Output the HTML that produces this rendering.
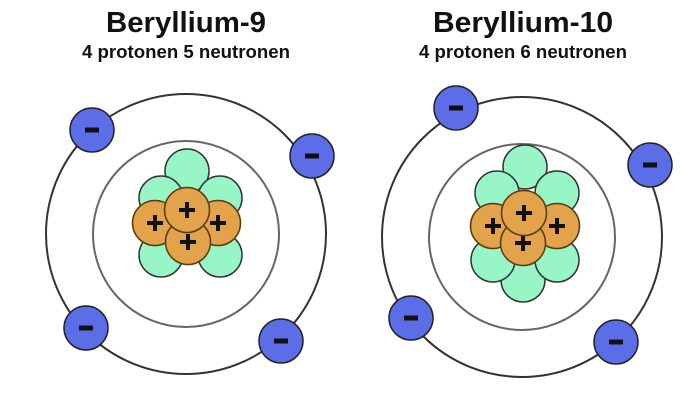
<!DOCTYPE html>
<html><head><style>
body{margin:0;background:#fff;width:700px;height:406px;overflow:hidden}
</style></head><body>
<svg width="700" height="406" viewBox="0 0 700 406" xmlns="http://www.w3.org/2000/svg" font-family="Liberation Sans, sans-serif">
<defs>
<g id="e"><circle r="22" fill="#5b6ee8" stroke="#222" stroke-width="1.5"/><rect x="-7" y="-2.5" width="14" height="5" fill="#111"/></g>
<g id="n"><circle r="22" fill="#98f5c6" stroke="#333" stroke-width="1.5"/></g>
<g id="p"><circle r="22.5" fill="#e3a34a" stroke="#5a3a10" stroke-width="1.5"/><rect x="-8" y="-2" width="16" height="4" fill="#111"/><rect x="-2" y="-8" width="4" height="16" fill="#111"/></g>
</defs>
<text x="186" y="32" font-size="29" font-weight="bold" text-anchor="middle" fill="#111" textLength="160" lengthAdjust="spacingAndGlyphs">Beryllium-9</text>
<text x="186" y="58" font-size="18" font-weight="bold" text-anchor="middle" fill="#111" textLength="208" lengthAdjust="spacingAndGlyphs">4 protonen 5 neutronen</text>
<text x="523" y="32" font-size="29" font-weight="bold" text-anchor="middle" fill="#111" textLength="180" lengthAdjust="spacingAndGlyphs">Beryllium-10</text>
<text x="523" y="58" font-size="18" font-weight="bold" text-anchor="middle" fill="#111" textLength="208" lengthAdjust="spacingAndGlyphs">4 protonen 6 neutronen</text>

<circle cx="186" cy="234" r="140" fill="none" stroke="#333" stroke-width="2"/>
<circle cx="186" cy="234" r="93" fill="none" stroke="#666" stroke-width="2"/>
<use href="#n" x="187" y="171"/><use href="#n" x="161" y="198"/><use href="#n" x="220" y="198"/>
<use href="#n" x="161" y="255"/><use href="#n" x="220" y="255"/>
<use href="#p" x="155" y="223"/><use href="#p" x="218" y="223"/><use href="#p" x="188" y="242"/><use href="#p" x="187" y="210"/>
<use href="#e" x="92" y="130"/><use href="#e" x="312" y="156"/><use href="#e" x="86" y="328"/><use href="#e" x="281" y="341"/>

<circle cx="522" cy="237" r="140" fill="none" stroke="#333" stroke-width="2"/>
<circle cx="522" cy="237" r="93" fill="none" stroke="#666" stroke-width="2"/>
<use href="#n" x="525" y="167"/><use href="#n" x="497" y="193"/><use href="#n" x="557" y="193"/>
<use href="#n" x="523" y="280"/><use href="#n" x="493" y="260"/><use href="#n" x="557" y="260"/>
<use href="#p" x="493" y="226"/><use href="#p" x="557" y="226"/><use href="#p" x="523" y="243"/><use href="#p" x="524" y="213"/>
<use href="#e" x="456" y="108"/><use href="#e" x="650" y="165"/><use href="#e" x="411" y="318"/><use href="#e" x="616" y="342"/>
</svg>
</body></html>
